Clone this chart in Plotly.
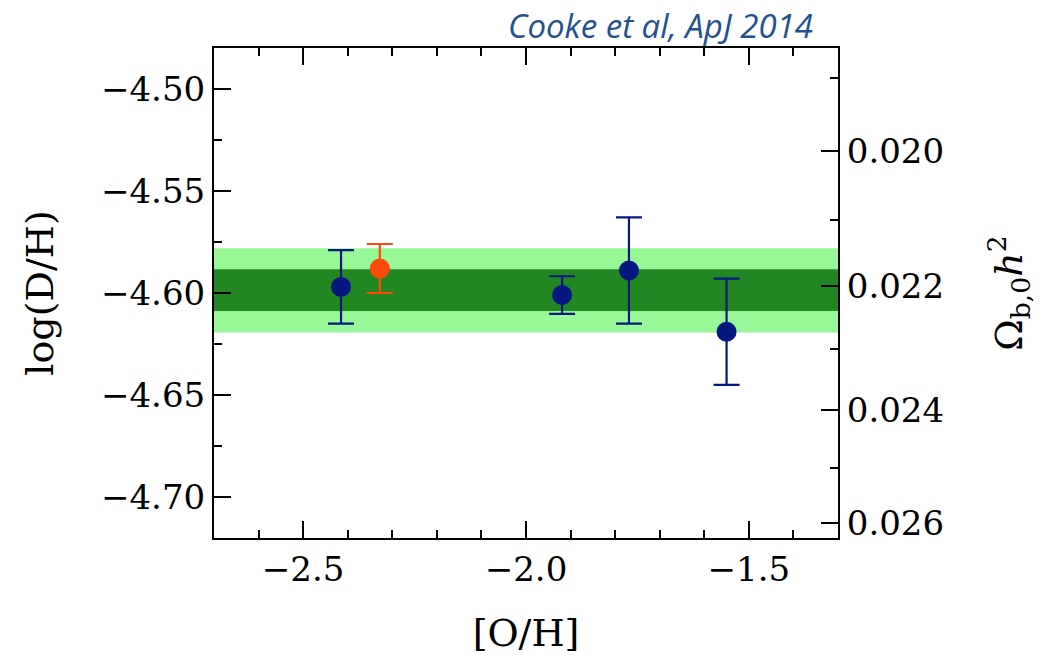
import numpy as np
import plotly.graph_objects as go

# Data
oh_blue = [-2.415, -1.919, -1.769, -1.550]
dh_blue = [-4.597, -4.601, -4.589, -4.619]
err_blue = [0.018, 0.0092, 0.026, 0.026]

oh_orange = [-2.328]
dh_orange = [-4.588]
err_orange = [0.012]

band_outer = [-4.6194, -4.5781]
band_inner = [-4.6088, -4.5884]

x_ticks = [-2.5, -2.0, -1.5]
x_ticktext = ["\u22122.5", "\u22122.0", "\u22121.5"]
x_minor = [-2.6, -2.4, -2.3, -2.2, -2.1, -1.9, -1.8, -1.7, -1.6, -1.4]
y_ticks = [-4.70, -4.65, -4.60, -4.55, -4.50]
y_ticktext = ["\u22124.70", "\u22124.65", "\u22124.60", "\u22124.55", "\u22124.50"]
y_minor = [-4.675, -4.625, -4.575, -4.525, -4.475]
omega_major = [0.020, 0.022, 0.024, 0.026]
omega_minor = [0.019, 0.021, 0.023, 0.025]

# mapping log(D/H) <-> Omega_b h^2
A_CONST = -7.2488
SLOPE = 1.6
def omega_to_logdh(om):
    return A_CONST - SLOPE * np.log10(np.array(om))

NAVY = "#061780"
ORANGE = "#ff4a0a"
FONT = "DejaVu Serif"
XR = [-2.7, -1.3]
YR = [-4.72, -4.48]

fig = go.Figure()

fig.add_shape(type="rect", xref="paper", yref="y", x0=0, x1=1,
              y0=band_outer[0], y1=band_outer[1],
              fillcolor="#98f898", line_width=0, layer="below")
fig.add_shape(type="rect", xref="paper", yref="y", x0=0, x1=1,
              y0=band_inner[0], y1=band_inner[1],
              fillcolor="#228722", line_width=0, layer="below")

fig.add_trace(go.Scatter(
    x=oh_blue, y=dh_blue, mode="markers",
    marker=dict(size=20, color=NAVY),
    error_y=dict(type="data", array=err_blue, color=NAVY, thickness=2.2, width=13),
    showlegend=False))
fig.add_trace(go.Scatter(
    x=oh_orange, y=dh_orange, mode="markers",
    marker=dict(size=20, color=ORANGE),
    error_y=dict(type="data", array=err_orange, color=ORANGE, thickness=2.2, width=13),
    showlegend=False))
# invisible traces to activate helper axes
for xa, ya in [("x", "y2"), ("x2", "y3"), ("x2", "y4")]:
    fig.add_trace(go.Scatter(x=[XR[0]], y=[YR[0]], xaxis=xa, yaxis=ya, mode="markers",
                             marker=dict(opacity=0), showlegend=False, hoverinfo="skip"))

common = dict(ticks="inside", tickwidth=2, tickcolor="black", showgrid=False,
              zeroline=False)

fig.update_layout(
    width=1058, height=663,
    margin=dict(l=214, r=220, t=48, b=125),
    paper_bgcolor="white", plot_bgcolor="white",
    font=dict(family=FONT, color="black", size=34),
    xaxis=dict(
        range=XR, tickvals=x_ticks, ticktext=x_ticktext, ticklen=17,
        showline=True, linewidth=2, linecolor="black", mirror="ticks",
        tickfont=dict(size=34, family=FONT),
        title=dict(text="[O/H]", font=dict(size=38, family=FONT), standoff=32),
        **common),
    xaxis2=dict(
        overlaying="x", range=XR, tickvals=x_minor, ticklen=8,
        showticklabels=False, showline=False, mirror="ticks", **common),
    yaxis=dict(
        range=YR, tickvals=y_ticks, ticktext=y_ticktext, ticklen=17,
        showline=True, linewidth=2, linecolor="black", mirror=False,
        tickfont=dict(size=34, family=FONT),
        title=dict(text="log(D/H)", font=dict(size=38, family=FONT), standoff=36),
        **common),
    yaxis3=dict(
        overlaying="y", side="left", range=YR, tickvals=y_minor, ticklen=8,
        showticklabels=False, showline=False, **common),
    yaxis2=dict(
        overlaying="y", side="right", range=YR,
        tickmode="array", tickvals=list(omega_to_logdh(omega_major)),
        ticktext=[f"{v:.3f}" for v in omega_major], ticklen=17,
        showline=True, linewidth=2, linecolor="black",
        tickfont=dict(size=34, family=FONT),
        title=dict(text="\u03a9<sub>b,0</sub><i>h</i><sup>2</sup>",
                   font=dict(size=38, family=FONT), standoff=52),
        **common),
    yaxis4=dict(
        overlaying="y", side="right", range=YR,
        tickmode="array", tickvals=list(omega_to_logdh(omega_minor)), ticklen=8,
        showticklabels=False, showline=False, **common),
    annotations=[dict(
        text="<i>Cooke et al, ApJ 2014</i>", xref="paper", yref="paper",
        x=0.963, y=1.045, xanchor="right", yanchor="middle", showarrow=False,
        font=dict(family="Open Sans", size=33, color="#24508c"))],
)

fig.write_html("out.html")
